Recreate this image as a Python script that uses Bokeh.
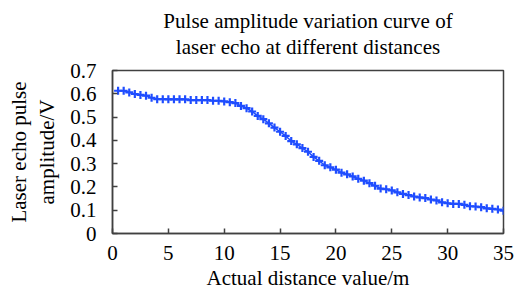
from bokeh.plotting import figure
from bokeh.models import FixedTicker, Range1d, Title, LinearAxis
from bokeh.embed import file_html
from bokeh.resources import INLINE

distance = [0.5, 1.0, 1.5, 2.0, 2.5, 3.0, 3.5, 4.0, 4.5, 5.0,
            5.5, 6.0, 6.5, 7.0, 7.5, 8.0, 8.5, 9.0, 9.5, 10.0,
            10.5, 11.0, 11.5, 12.0, 12.5, 13.0, 13.5, 14.0, 14.5, 15.0,
            15.5, 16.0, 16.5, 17.0, 17.5, 18.0, 18.5, 19.0, 19.5, 20.0,
            20.5, 21.0, 21.5, 22.0, 22.5, 23.0, 23.5, 24.0, 24.5, 25.0,
            25.5, 26.0, 26.5, 27.0, 27.5, 28.0, 28.5, 29.0, 29.5, 30.0,
            30.5, 31.0, 31.5, 32.0, 32.5, 33.0, 33.5, 34.0, 34.5, 35.0]
amplitude = [0.613, 0.613, 0.606, 0.599, 0.595, 0.592, 0.583, 0.577, 0.577, 0.576,
             0.576, 0.576, 0.576, 0.573, 0.573, 0.573, 0.573, 0.570, 0.570, 0.567,
             0.564, 0.560, 0.548, 0.538, 0.524, 0.505, 0.491, 0.473, 0.455, 0.437,
             0.419, 0.397, 0.383, 0.367, 0.351, 0.329, 0.312, 0.293, 0.284, 0.274,
             0.261, 0.254, 0.245, 0.235, 0.227, 0.216, 0.205, 0.193, 0.190, 0.185,
             0.177, 0.170, 0.165, 0.159, 0.155, 0.152, 0.146, 0.142, 0.134, 0.130,
             0.127, 0.127, 0.123, 0.117, 0.116, 0.113, 0.108, 0.106, 0.103, 0.098]
x_ticks = [0, 5, 10, 15, 20, 25, 30, 35]
y_ticks = [0, 0.1, 0.2, 0.3, 0.4, 0.5, 0.6, 0.7]
y_tick_labels = ["0", "0.1", "0.2", "0.3", "0.4", "0.5", "0.6", "0.7"]
title_line1 = "Pulse amplitude variation curve of"
title_line2 = "laser echo at different distances"
ylabel_line1 = "Laser echo pulse"
ylabel_line2 = "amplitude/V"
xlabel = "Actual distance value/m"

FONT = "Liberation Serif"
FS = "21px"
BLUE = "#1f4dff"
DARK = "#404040"

p = figure(width=515, height=297, output_backend="svg", toolbar_location=None,
           x_range=Range1d(0, 35), y_range=Range1d(0, 0.7), title=None,
           min_border_left=112, min_border_right=12, min_border_top=70, min_border_bottom=64)
p.xgrid.visible = False
p.ygrid.visible = False
p.outline_line_color = DARK
p.outline_line_width = 1.5
p.outline_line_alpha = 1.0

t2 = Title(text=title_line2, text_font=FONT, text_font_size=FS, text_font_style="normal",
           align="center", text_color="black", standoff=23)
t1 = Title(text=title_line1, text_font=FONT, text_font_size=FS, text_font_style="normal",
           align="center", text_color="black", standoff=-23)
p.add_layout(t2, "above")
p.add_layout(t1, "above")

for ax, ticks in ((p.xaxis[0], x_ticks), (p.yaxis[0], y_ticks)):
    ax.ticker = FixedTicker(ticks=ticks)
    ax.minor_tick_line_color = None
    ax.major_tick_in = 5
    ax.major_tick_out = 0
    ax.axis_line_color = DARK
    ax.axis_line_width = 1.5
    ax.major_tick_line_color = DARK
    ax.major_tick_line_width = 1.5
    ax.major_label_text_font = FONT
    ax.major_label_text_font_size = FS
    ax.major_label_text_color = "black"
    ax.axis_label_text_font = FONT
    ax.axis_label_text_font_size = FS
    ax.axis_label_text_font_style = "normal"
    ax.axis_label_text_color = "black"
p.xaxis.major_label_standoff = 12
p.yaxis.major_label_standoff = 16
p.yaxis.major_label_overrides = {t: s for t, s in zip(y_ticks, y_tick_labels)}
p.xaxis.axis_label = xlabel
p.yaxis.axis_label = ylabel_line2
p.xaxis.axis_label_standoff = 3
p.yaxis.axis_label_standoff = 8

outer = LinearAxis(ticker=FixedTicker(ticks=[]), axis_label=ylabel_line1,
                   axis_line_color=None, major_tick_line_color=None,
                   minor_tick_line_color=None, major_label_text_font_size="0px",
                   major_label_standoff=0, major_tick_in=0, major_tick_out=0,
                   axis_label_standoff=2, axis_label_text_font=FONT,
                   axis_label_text_font_size=FS, axis_label_text_font_style="normal",
                   axis_label_text_color="black")
p.add_layout(outer, "left")

p.line(distance, amplitude, line_color=BLUE, line_width=1.5)
p.scatter(distance, amplitude, marker="cross", size=8, line_color=BLUE, line_width=2.2)

open("out.html", "w").write(file_html(p, INLINE))
